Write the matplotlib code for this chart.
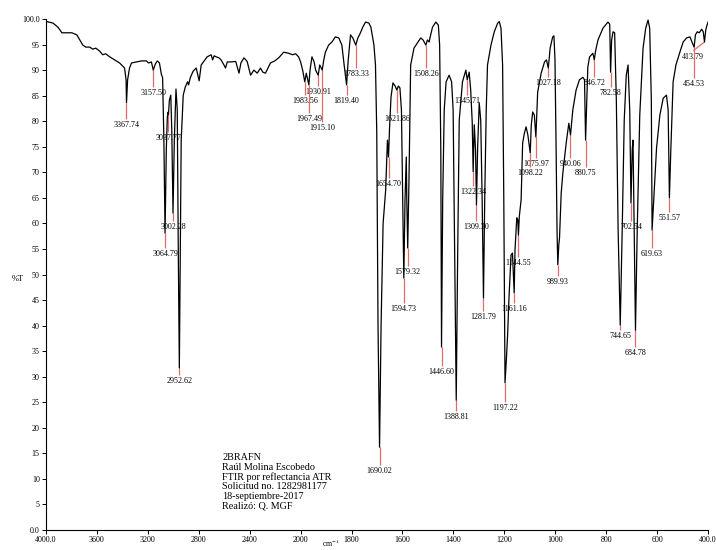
"""
FTIR (ATR) spectrum of 2BRAFN, %T vs wavenumber, with peak picks.
Axis has the usual 2x expansion below 2000 cm-1.
"""
import numpy as np
import matplotlib; matplotlib.use("Agg"); import matplotlib.pyplot as plt

plt.rcParams["font.family"] = ["Liberation Serif", "DejaVu Serif"]
plt.rcParams["mathtext.fontset"] = "stix"

# spectrum (wavenumber cm-1, %T)
wn = [4000, 3995, 3945, 3906, 3875, 3797, 3758, 3711, 3688, 3656, 3633, 3609, 3578, 3555, 3531,
      3500, 3461, 3422, 3383, 3371, 3367.7, 3359, 3344, 3328, 3289, 3250, 3211, 3195, 3172, 3157.5,
      3141, 3125, 3109, 3094, 3084, 3074, 3064.8, 3055, 3047, 3040, 3037.8, 3031, 3020, 3012, 3002.3,
      2992, 2979, 2969, 2961, 2952.6, 2945, 2938, 2922, 2906, 2888, 2880, 2867, 2844, 2820, 2797,
      2781, 2758, 2734, 2703, 2691, 2680, 2664, 2641, 2625, 2602, 2590, 2576, 2547, 2510, 2484,
      2469, 2445, 2420, 2393, 2367, 2341, 2315, 2297, 2276, 2237, 2203, 2172, 2133, 2094, 2063,
      2039, 2016, 2000, 1992, 1983.6, 1977.7, 1967.5, 1963, 1955.5, 1947, 1941, 1930.9, 1925, 1915.1,
      1909, 1902.7, 1890, 1877, 1863.5, 1850, 1838, 1829, 1819.4, 1813, 1804, 1795, 1783.3, 1775,
      1765, 1756, 1745, 1732, 1724, 1719, 1712, 1706, 1701, 1696, 1690.0, 1684, 1676, 1666, 1659,
      1654.7, 1651, 1645, 1637.4, 1629, 1621.9, 1616, 1610, 1604, 1599, 1594.7, 1590, 1585, 1583,
      1579.3, 1574.4, 1567.8, 1554.7, 1541.7, 1528.3, 1519, 1508.3, 1502, 1495, 1492, 1482, 1469,
      1459, 1454, 1449.4, 1446.6, 1442, 1436, 1428.6, 1416.7, 1407, 1401, 1395, 1388.8, 1383, 1377,
      1364.3, 1351, 1345.7, 1338, 1332, 1326, 1322.3, 1318, 1313, 1309.3, 1305, 1298.5, 1292.6, 1287,
      1281.8, 1277, 1271, 1266, 1252.4, 1239.4, 1226, 1219.7, 1213, 1206.7, 1202, 1197.2, 1192, 1187,
      1182, 1173.6, 1168, 1161.2, 1158, 1151, 1147, 1144.6, 1141, 1134, 1128, 1121, 1114.5, 1107.5,
      1098.2, 1094, 1088.5, 1082, 1076, 1072, 1069, 1055.3, 1042, 1034.4, 1027.2, 1020, 1010, 1005,
      1001, 996.5, 993, 989.9, 986, 983.2, 976.6, 970, 957, 946.6, 940, 931, 918, 905, 891.4, 885,
      880.8, 877, 872, 865, 852, 846.7, 841, 832, 812.6, 793, 786, 782.6, 778.5, 773, 766.7, 760,
      753, 744.7, 737, 729, 721, 714, 707.4, 702.5, 697.7, 694.5, 690, 684.8, 678, 668, 655, 644.7,
      635.5, 629, 622.6, 619.6, 613, 602, 589, 576, 563, 556.5, 551.6, 546, 537, 526, 510.5, 497.4,
      484, 471, 463, 454.5, 449.4, 442.3, 434.5, 425, 418.7, 413.8, 409, 405, 400]
trans = [99.6, 99.5, 99.2, 98.4, 97.3, 97.3, 96.9, 94.9, 94.5, 94.5, 94.1, 94.3, 93.7, 93.0, 93.2,
         92.6, 92.0, 91.4, 90.4, 88.1, 83.6, 88.1, 90.4, 91.4, 91.6, 91.8, 91.8, 91.4, 91.6, 90.0,
         91.2, 91.8, 91.4, 89.2, 88.5, 76.3, 58.1, 74.4, 80.8, 81.8, 81.4, 84.1, 85.1, 78.3, 62.0,
         76.3, 86.3, 82.2, 54.8, 31.7, 54.8, 76.3, 85.1, 86.7, 87.7, 87.1, 88.5, 89.8, 90.4, 87.9,
         91.0, 91.8, 92.6, 93.0, 92.0, 92.8, 92.6, 92.4, 92.0, 91.0, 90.4, 91.6, 91.6, 91.7, 89.4,
         91.4, 92.4, 91.7, 89.0, 90.0, 89.4, 90.4, 89.6, 89.4, 91.4, 91.8, 92.4, 93.5, 93.3, 93.0,
         93.2, 92.6, 91.6, 90.0, 87.7, 89.4, 87.1, 90.0, 92.6, 91.6, 90.0, 89.0, 91.0, 90.0,
         92.0, 93.5, 94.9, 95.5, 96.5, 96.3, 94.9, 91.0, 87.1, 92.0, 96.9, 96.3, 94.9, 96.3,
         97.3, 98.4, 99.4, 99.2, 98.4, 96.9, 94.9, 91.0, 78.0, 40.0, 16.2, 40.0, 60.0, 66.5, 76.3,
         73.0, 78.3, 84.7, 87.5, 86.9, 86.1, 86.9, 86.5, 82.2, 64.6, 49.3, 64.6, 73.0, 64.6,
         55.2, 68.5, 91.0, 94.3, 95.3, 96.3, 95.9, 94.9, 95.9, 95.5, 96.3, 98.4, 99.4,
         98.8, 94.9, 74.4, 35.8, 64.6, 82.2, 87.7, 89.0, 87.7, 82.2, 54.8, 25.4, 54.8, 80.2,
         87.7, 90.0, 88.1, 89.6, 86.1, 79.8, 70.1, 79.3, 74.4, 63.6, 74.4, 83.6, 80.2, 64.6,
         45.4, 64.6, 82.2, 91.0, 94.9, 97.5, 99.2, 99.5, 98.2, 91.0, 64.6, 28.8, 33.3, 38.2,
         45.0, 53.8, 54.2, 46.4, 54.8, 61.1, 60.7, 57.7, 61.4, 64.6, 75.7, 77.7, 78.9, 77.3,
         73.8, 79.3, 81.8, 81.2, 76.9, 82.2, 85.7, 89.4, 91.6, 92.0, 90.4, 94.3, 96.5, 96.7,
         92.0, 74.4, 58.7, 51.9, 55.8, 57.1, 65.9, 69.9, 75.7, 79.6, 77.3, 82.2, 86.1, 88.1, 88.6, 88.1,
         76.3, 82.2, 90.6, 92.6, 93.3, 92.0, 93.9, 95.9, 98.2, 99.4, 99.0, 89.6, 95.9, 97.5, 97.3, 84.1,
         58.7, 40.1, 58.7, 80.2, 89.0, 91.0, 82.2, 64.0, 74.4, 76.3, 58.7, 39.1, 58.7, 81.2, 94.3, 98.2,
         99.8, 98.2, 84.1, 58.7, 64.6, 74.8, 81.2, 84.5, 85.1, 82.2, 65.0, 74.4, 87.7, 91.0, 93.5, 95.5,
         96.3, 96.5, 95.5, 94.5, 96.9, 97.5, 97.3, 98.0, 97.5, 95.5, 97.8, 98.6, 99.4]

# peak picks: position, %T at the peak, %T where its label sits
peak_wn = [3367.74, 3157.50, 3064.79, 3037.77, 3002.28, 2952.62, 1983.56, 1967.49, 1930.91,
           1915.10, 1819.40, 1783.33, 1690.02, 1654.70, 1621.86, 1594.73, 1579.32, 1508.26,
           1446.60, 1388.81, 1345.71, 1322.34, 1309.30, 1281.79, 1197.22, 1161.16, 1144.55,
           1098.22, 1075.97, 1027.18, 989.93, 940.06, 880.75, 846.72, 782.58, 744.65, 702.54,
           684.78, 619.63, 551.57, 454.53, 413.79]
peak_T = [83.6, 90.0, 58.1, 81.6, 62.0, 31.7, 87.7, 87.1, 89.0, 90.0, 87.1, 94.9, 16.2, 73.0,
          86.1, 49.3, 55.2, 94.9, 35.8, 25.4, 88.1, 70.1, 63.6, 45.4, 28.8, 46.4, 57.7, 73.8,
          76.9, 90.4, 51.9, 77.3, 76.3, 92.0, 89.6, 40.1, 64.0, 39.1, 58.7, 65.0, 94.5, 95.5]
label_T = [79.3, 85.5, 54.0, 76.7, 59.3, 29.2, 83.9, 80.4, 85.7, 78.7, 83.9, 89.2, 11.5, 67.7,
           80.4, 43.2, 50.5, 89.2, 30.9, 22.1, 83.9, 66.1, 59.3, 41.7, 23.9, 43.2, 52.3, 69.9,
           71.6, 87.5, 48.5, 71.6, 69.9, 87.5, 85.5, 38.0, 59.3, 34.6, 54.0, 61.1, 87.3, 92.6]
label_wn = list(peak_wn[:-1]) + [458]   # last one is pushed left, off the edge

info = ["2BRAFN", "Raúl Molina Escobedo", "FTIR por reflectancia ATR",
        "Solicitud no. 1282981177", "18-septiembre-2017", "Realizó: Q. MGF"]

xticks = [4000, 3600, 3200, 2800, 2400, 2000, 1800, 1600, 1400, 1200, 1000, 800, 600, 400]
xtlabels = ["4000.0"] + [str(t) for t in xticks[1:-1]] + ["400.0"]
yticks = list(range(0, 101, 5))
ytlabels = ["0.0"] + [str(t) for t in yticks[1:-1]] + ["100.0"]


def fwd(x):
    x = np.asarray(x, float)
    return np.where(x > 2000, 1000 + x / 2, x)


def inv(u):
    u = np.asarray(u, float)
    return np.where(u > 2000, 2 * (u - 1000), u)


fig = plt.figure(figsize=(7.16, 5.5), dpi=100)
ax = fig.add_axes([46 / 716, 20 / 550, 662 / 716, 511 / 550])
ax.set_xscale("function", functions=(fwd, inv))
ax.set_xlim(4000, 400); ax.set_ylim(0, 100)

RED = "#e26a6a"
for w0, pt, w1, lt in zip(peak_wn, peak_T, label_wn, label_T):
    ax.plot([w0, w1], [pt, lt + 1.2], color=RED, lw=0.9, zorder=2, solid_capstyle="butt")
    ax.text(w1, lt, f"{w0:.2f}", ha="center", va="center", fontsize=5.8, zorder=1)

ax.plot(wn, trans, color="black", lw=0.9, zorder=3)

for i, s in enumerate(info):
    ax.text(0.266, 0.141 - i * 0.0188, s, transform=ax.transAxes, ha="left", va="center", fontsize=7.3)

ax.set_xticks(xticks); ax.set_xticklabels(xtlabels)
ax.set_yticks(yticks); ax.set_yticklabels(ytlabels)
ax.xaxis.set_minor_locator(matplotlib.ticker.NullLocator())
ax.tick_params(direction="out", length=3, width=0.7, labelsize=5.8, pad=1.5)
for s in ("top", "right"):
    ax.spines[s].set_visible(False)
for s in ("left", "bottom"):
    ax.spines[s].set_linewidth(0.8)

fig.text(18 / 716, 1 - 279 / 550, "%T", ha="center", va="center", fontsize=6)
fig.text(331 / 716, 0.001, "cm$^{-1}$", ha="center", va="bottom", fontsize=5.5)

fig.savefig("out.png", dpi=100)
